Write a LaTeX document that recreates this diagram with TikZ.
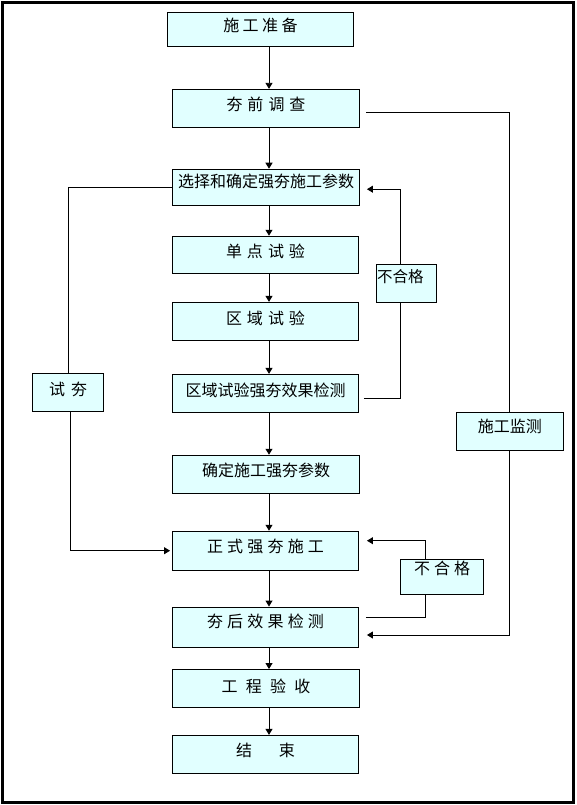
\documentclass[tikz,border=0pt]{standalone}
\usepackage{fontspec}
\setmainfont{Noto Sans CJK SC}
\usetikzlibrary{arrows.meta}
\definecolor{boxfill}{RGB}{225,255,255}
\begin{document}
\begin{tikzpicture}[x=1pt,y=-1pt,
  box/.style={draw=black, fill=boxfill, line width=0.9pt, inner sep=0pt,
    font=\fontsize{16pt}{16pt}\selectfont},
  rz/.style={text height=14pt, text depth=#1},
  conn/.style={line width=0.9pt, draw=black},
  arr/.style={-{Triangle[width=7pt,length=6pt]}},
]
\useasboundingbox (0,0) rectangle (576,805);
\draw[line width=2.5pt] (2.5,2.5) rectangle (573.5,802.5);

% main column
\node[box, minimum width=186pt, minimum height=33.6pt, rz=9.8pt] (b1) at (260.5,29.5)
  {施\hspace{3.5pt}工\hspace{3.5pt}准\hspace{3.5pt}备};
\node[box, minimum width=187pt, minimum height=38pt, rz=9.8pt] (b2) at (266,108.3)
  {夯\hspace{5pt}前\hspace{5pt}调\hspace{5pt}查};
\node[box, minimum width=187pt, minimum height=36pt, rz=13.8pt] (b3) at (266,187.2)
  {选择和确定强夯施工参数};
\node[box, minimum width=186pt, minimum height=37pt, rz=7.8pt] (b4) at (265.5,254.7)
  {单\hspace{5pt}点\hspace{5pt}试\hspace{5pt}验};
\node[box, minimum width=186pt, minimum height=38pt, rz=7.8pt] (b5) at (265.5,321.3)
  {区\hspace{5pt}域\hspace{5pt}试\hspace{5pt}验};
\node[box, minimum width=186pt, minimum height=38pt, rz=7.8pt] (b6) at (265.5,393.3)
  {区域试验强夯效果检测};
\node[box, minimum width=187pt, minimum height=38pt, rz=9.8pt] (b7) at (266,474.2)
  {确定施工强夯参数};
\node[box, minimum width=186pt, minimum height=39pt, rz=10.8pt] (b8) at (265.5,550.7)
  {正\hspace{4.2pt}式\hspace{4.2pt}强\hspace{4.2pt}夯\hspace{4.2pt}施\hspace{4.2pt}工};
\node[box, minimum width=186pt, minimum height=40pt, rz=13.8pt] (b9) at (265.5,627)
  {夯\hspace{4.2pt}后\hspace{4.2pt}效\hspace{4.2pt}果\hspace{4.2pt}检\hspace{4.2pt}测};
\node[box, minimum width=187pt, minimum height=38pt, rz=5.8pt] (b10) at (266,688.5)
  {工\hspace{8.3pt}程\hspace{8.3pt}验\hspace{8.3pt}收};
\node[box, minimum width=186pt, minimum height=38pt, rz=9.8pt] (b11) at (265.5,754.3)
  {结\hspace{26.7pt}束};

% side boxes
\node[box, minimum width=71pt, minimum height=38pt, rz=7.8pt] (s1) at (68,392.5)
  {试\hspace{6pt}夯};
\node[box, minimum width=60pt, minimum height=38.7pt, text height=14pt, text depth=16.2pt,
  font=\fontsize{15.5pt}{15.5pt}\selectfont] (s2) at (406.8,283.3)
  {不合格\hspace*{13pt}};
\node[box, minimum width=107.7pt, minimum height=38.4pt, rz=12.8pt] (s3) at (509.8,431.5)
  {施工监测};
\node[box, minimum width=83pt, minimum height=35.7pt, rz=17.8pt] (s4) at (442.2,576.8)
  {不\hspace{4pt}合\hspace{4pt}格};

% main arrows
\coordinate (sp) at (269,0);
\draw[conn,arr] (b1.south -| sp) -- (b2.north -| sp);
\draw[conn,arr] (b2.south -| sp) -- (b3.north -| sp);
\draw[conn,arr] (b3.south -| sp) -- (b4.north -| sp);
\draw[conn,arr] (b4.south -| sp) -- (b5.north -| sp);
\draw[conn,arr] (b5.south -| sp) -- (b6.north -| sp);
\draw[conn,arr] (b6.south -| sp) -- (b7.north -| sp);
\draw[conn,arr] (b7.south -| sp) -- (b8.north -| sp);
\draw[conn,arr] (b8.south -| sp) -- (b9.north -| sp);
\draw[conn,arr] (b9.south -| sp) -- (b10.north -| sp);
\draw[conn,arr] (b10.south -| sp) -- (b11.north -| sp);

% trial ram branch
\draw[conn] (b3.west) -| (s1.north);
\draw[conn,arr] ([xshift=2.5pt]s1.south) |- ([xshift=-2pt]b8.west);

% upper unqualified loop
\coordinate (v1) at (400.7,0);
\draw[conn] ([xshift=5pt,yshift=-5pt]b6.east) -| (s2.south -| v1);
\draw[conn,arr] (s2.north -| v1) |- ([xshift=7pt,yshift=-2pt]b3.east);

% lower unqualified loop
\coordinate (v2) at (425,0);
\draw[conn] ([xshift=7pt,yshift=10pt]b9.east) -| (s4.south -| v2);
\draw[conn,arr] (s4.north -| v2) |- ([xshift=8pt,yshift=10pt]b8.east);

% monitoring
\draw[conn] ([xshift=6.5pt,yshift=-4pt]b2.east) -| (s3.north);
\draw[conn,arr] (s3.south) |- ([xshift=8pt,yshift=-8pt]b9.east);
\end{tikzpicture}
\end{document}
